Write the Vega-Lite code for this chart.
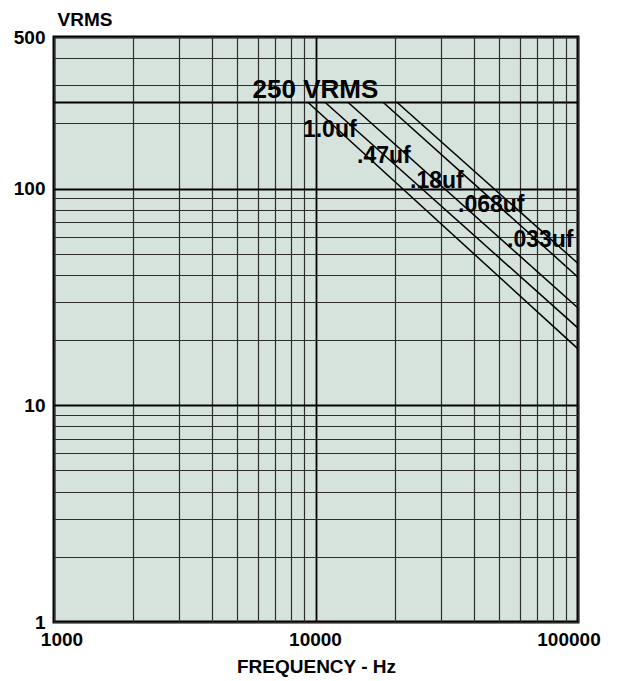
{
  "$schema": "https://vega.github.io/schema/vega-lite/v6.json",
  "autosize": {"type": "none"},
  "padding": {"left": 54, "top": 37, "right": 43, "bottom": 59},
  "width": 524,
  "height": 585,
  "background": "white",
  "config": {
    "view": {"fill": "#d5e3dc", "stroke": "black", "strokeWidth": 3},
    "font": "Liberation Sans",
    "axis": {"labelFont": "Liberation Sans", "titleFont": "Liberation Sans"}
  },
  "datasets": {
    "curves": [
      {"cap": "1.0uf", "f": 9310, "v": 250},
      {"cap": "1.0uf", "f": 100000, "v": 18.2},
      {"cap": ".47uf", "f": 10820, "v": 250},
      {"cap": ".47uf", "f": 100000, "v": 22.7},
      {"cap": ".18uf", "f": 13240, "v": 250},
      {"cap": ".18uf", "f": 100000, "v": 28.1},
      {"cap": ".068uf", "f": 18030, "v": 250},
      {"cap": ".068uf", "f": 100000, "v": 39.0},
      {"cap": ".033uf", "f": 20370, "v": 250},
      {"cap": ".033uf", "f": 100000, "v": 45.1}
    ],
    "caplabels": [
      {"text": "1.0uf", "f": 8913, "v": 172.8},
      {"text": ".47uf", "f": 14340, "v": 131},
      {"text": ".18uf", "f": 22850, "v": 100.5},
      {"text": ".068uf", "f": 34830, "v": 77.9},
      {"text": ".033uf", "f": 53580, "v": 53.7}
    ],
    "heading": [
      {"text": "250 VRMS", "f": 9950, "v": 262}
    ]
  },
  "layer": [
    {
      "data": {"name": "curves"},
      "mark": {"type": "line", "color": "black", "strokeWidth": 1.5, "clip": true},
      "encoding": {
        "x": {
          "field": "f", "type": "quantitative",
          "scale": {"type": "log", "domain": [1000, 100000], "nice": false},
          "axis": {
            "values": [1000, 2000, 3000, 4000, 5000, 6000, 7000, 8000, 9000, 10000, 20000, 30000, 40000, 50000, 60000, 70000, 80000, 90000, 100000],
            "labelExpr": "indexof([1000, 10000, 100000], datum.value) >= 0 ? format(datum.value, 'd') : ''",
            "labelOverlap": false,
            "labelFlush": false,
            "labelBound": false,
            "labelAlign": "center",
            "labelOffset": {
              "condition": [
                {"test": "datum.value == 1000", "value": 7.5},
                {"test": "datum.value == 100000", "value": -9.5}
              ],
              "value": -1
            },
            "labelFontSize": 19,
            "labelFontWeight": "bold",
            "labelColor": "black",
            "labelPadding": 8,
            "ticks": false,
            "domain": false,
            "grid": true,
            "gridColor": {"condition": {"test": "datum.value == 10000", "value": "black"}, "value": "#2e2e2e"},
            "gridWidth": {"condition": {"test": "datum.value == 10000", "value": 1.8}, "value": 1.2},
            "gridOpacity": 1,
            "title": "FREQUENCY - Hz",
            "titleFontSize": 19,
            "titleFontWeight": "bold",
            "titleColor": "black",
            "titlePadding": 8
          }
        },
        "y": {
          "field": "v", "type": "quantitative",
          "scale": {"type": "log", "domain": [1, 500], "nice": false},
          "axis": {
            "values": [1, 2, 3, 4, 5, 6, 7, 8, 9, 10, 20, 30, 40, 50, 60, 70, 80, 90, 100, 200, 250, 300, 400, 500],
            "labelExpr": "indexof([1, 10, 100, 500], datum.value) >= 0 ? format(datum.value, 'd') : ''",
            "labelOverlap": false,
            "labelFlush": false,
            "labelBound": false,
            "labelFontSize": 19,
            "labelFontWeight": "bold",
            "labelColor": "black",
            "labelPadding": 9,
            "ticks": false,
            "domain": false,
            "grid": true,
            "gridColor": {"condition": {"test": "datum.value == 10 || datum.value == 100 || datum.value == 250", "value": "black"}, "value": "#2e2e2e"},
            "gridWidth": {"condition": {"test": "datum.value == 10 || datum.value == 100 || datum.value == 250", "value": 1.8}, "value": 1.2},
            "gridOpacity": 1,
            "title": "VRMS",
            "titleAngle": 0,
            "titleAlign": "left",
            "titleBaseline": "alphabetic",
            "titleX": 3,
            "titleY": -12,
            "titleFontSize": 19,
            "titleFontWeight": "bold",
            "titleColor": "black"
          }
        },
        "detail": {"field": "cap"}
      }
    },
    {
      "data": {"name": "caplabels"},
      "mark": {"type": "text", "align": "left", "baseline": "alphabetic", "fontSize": 23, "fontWeight": "bold", "color": "black", "font": "Liberation Sans"},
      "encoding": {
        "x": {"field": "f", "type": "quantitative"},
        "y": {"field": "v", "type": "quantitative"},
        "text": {"field": "text"}
      }
    },
    {
      "data": {"name": "heading"},
      "mark": {"type": "text", "align": "center", "baseline": "alphabetic", "fontSize": 26, "fontWeight": "bold", "color": "black", "font": "Liberation Sans"},
      "encoding": {
        "x": {"field": "f", "type": "quantitative"},
        "y": {"field": "v", "type": "quantitative"},
        "text": {"field": "text"}
      }
    }
  ]
}
